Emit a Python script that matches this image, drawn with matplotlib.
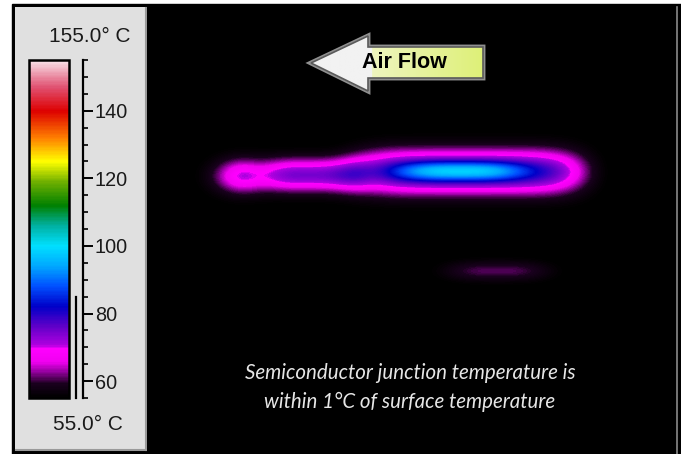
import numpy as np
import matplotlib
matplotlib.use('Agg')
import matplotlib.pyplot as plt
from matplotlib.colors import LinearSegmentedColormap
from matplotlib.patches import Rectangle, Polygon
from matplotlib.ticker import MultipleLocator, FixedLocator

W, H = 681, 454

# ---- colour scale (deg C) ----
t_min, t_max = 55.0, 155.0
scale_ticks = [60, 80, 100, 120, 140]
scale_labels = ['60', '80', '100', '120', '140']
top_label = '155.0° C'
bottom_label = '55.0° C'
scale_stops = [55, 59, 63, 65.5, 69.5, 70.5, 76, 82, 88, 94, 100, 106, 112, 119, 125, 132, 140, 147, 155]
scale_colors = ['#000000', '#1a001e', '#a000aa', '#f000f0', '#ff00ff', '#b000e0', '#6000c8',
                '#0000c8', '#0050ff', '#00a8ff', '#00e0ff', '#00b0a0', '#008000', '#70b000',
                '#ffff00', '#ff8000', '#dd0000', '#e05070', '#f8e0e8']
range_marker = [55, 85]

# ---- hot spots (pixel coords of the picture) ----
spot_names = ['tail_end', 'tail', 'body', 'core', 'lower']
spot_x = [243, 316, 468, 460, 497]
spot_y = [176, 175, 172, 171, 271]
spot_len = [28, 50, 114, 62, 52]
spot_hgt = [17, 16, 21, 10, 10]
spot_rise = [16, 20, 26, 18, 6.3]      # deg C above ambient
spot_pow = [2, 4, 6, 3, 3]
ambient = 55.0

arrow_text = 'Air Flow'
caption = ['Semiconductor junction temperature is', 'within 1°C of surface temperature']

# ---- build the temperature field ----
img_x0, img_x1, img_y0, img_y1 = 147, 676, 7, 452
xs = np.arange(img_x0, img_x1) + 0.5
ys = np.arange(img_y0, img_y1) + 0.5
X, Y = np.meshgrid(xs, ys)
T = np.full(X.shape, ambient - 0.5)
for cx, cy, a, b, rise, p in zip(spot_x, spot_y, spot_len, spot_hgt, spot_rise, spot_pow):
    T += rise * np.exp(-np.abs((X - cx) / a) ** p - ((Y - cy) / b) ** 2)

pos = [(s - t_min) / (t_max - t_min) for s in scale_stops]
cmap = LinearSegmentedColormap.from_list('thermal', list(zip(pos, scale_colors)))
cmap.set_under('#000000')

fig = plt.figure(figsize=(W / 100, H / 100), dpi=100)
fig.patch.set_facecolor('white')

def fr(x0, y0, x1, y1):
    return [x0 / W, 1 - y1 / H, (x1 - x0) / W, (y1 - y0) / H]

LAB = dict(family='Liberation Sans', color='#1a1a1a')

# background
bg = fig.add_axes([0, 0, 1, 1])
bg.set_xlim(0, W); bg.set_ylim(H, 0); bg.axis('off')
bg.add_patch(Rectangle((12, 4), W - 12, H - 4, color='black'))
bg.add_patch(Rectangle((15, 7), 131, 443, facecolor='#e0e0e0', edgecolor='none'))
bg.plot([146, 146], [8, 450], color='#9a9a9a', lw=1.5)
bg.plot([16, 146], [450, 450], color='#9a9a9a', lw=1.5)

# thermal image
ax = fig.add_axes(fr(img_x0, img_y0, img_x1, img_y1))
im = ax.imshow(T, cmap=cmap, vmin=t_min, vmax=t_max, extent=(img_x0, img_x1, img_y1, img_y0),
               interpolation='bilinear', aspect='auto')
ax.set_xlim(img_x0, img_x1); ax.set_ylim(img_y1, img_y0)
ax.axis('off')

# colour bar
cax = fig.add_axes(fr(29, 60, 69, 398))
cb = fig.colorbar(im, cax=cax)
cb.set_ticks([])
cb.outline.set_edgecolor('black')
cb.outline.set_linewidth(1.8)

# scale with ticks
sax = fig.add_axes(fr(70, 60, 83, 398))
sax.set_ylim(t_min, t_max)
sax.patch.set_visible(False)
for s in ['left', 'top', 'bottom']:
    sax.spines[s].set_visible(False)
sax.spines['right'].set_linewidth(1.6)
sax.set_xticks([])
sax.yaxis.tick_right()
sax.yaxis.set_major_locator(FixedLocator(scale_ticks))
sax.set_yticklabels(scale_labels, fontsize=14.3, **LAB)
sax.yaxis.set_minor_locator(MultipleLocator(5))
sax.tick_params(axis='y', which='major', direction='out', length=7.5, width=1.4, pad=1)
sax.tick_params(axis='y', which='minor', direction='out', length=3.6, width=1.2)

# overlay
top = fig.add_axes([0, 0, 1, 1])
top.patch.set_visible(False)

# range marker next to the scale
ry = [60 + (t_max - v) / (t_max - t_min) * 338 for v in range_marker]
top.plot([76, 76], ry, color='black', lw=1.6)

top.text(90, 36, top_label, ha='center', va='center', fontsize=15, **LAB)
top.text(88, 425, bottom_label, ha='center', va='center', fontsize=15, **LAB)

# air flow arrow
pts = [(311, 63), (368, 36), (368, 47), (483, 47), (483, 78), (368, 78), (368, 91)]
halo = Polygon(pts, closed=True, facecolor='none', edgecolor='#cfcfcf', lw=3.5, alpha=0.7)
top.add_patch(halo)
gcols = np.zeros((1, 256, 3))
gx = np.linspace(311, 483, 256)
white = np.array([242, 242, 242]) / 255
yel0 = np.array([238, 245, 190]) / 255
yel1 = np.array([222, 240, 120]) / 255
for i, xv in enumerate(gx):
    if xv < 372:
        gcols[0, i] = white
    else:
        t = (xv - 372) / (483 - 372)
        gcols[0, i] = yel0 * (1 - t) + yel1 * t
gim = top.imshow(gcols, extent=(311, 483, 92, 35), aspect='auto', zorder=3)
poly = Polygon(pts, closed=True, facecolor='none', edgecolor='#5a5a5a', lw=1.2, zorder=4)
top.add_patch(poly)
gim.set_clip_path(poly)
top.set_xlim(0, W); top.set_ylim(H, 0); top.axis('off')
top.text(404, 63, arrow_text, ha='center', va='center', fontsize=15.5, fontweight='bold',
         family='Liberation Sans', color='black', zorder=5)

# caption
top.text(410, 373, caption[0], ha='center', va='center', fontsize=14.8, style='italic',
         family='Lato', color='#e6e6e6')
top.text(410, 402, caption[1], ha='center', va='center', fontsize=14.8, style='italic',
         family='Lato', color='#e6e6e6')

# thin frame line at the right
top.plot([677, 677], [7, 454], color='#8a8a8a', lw=1.2)

fig.savefig('out.png', dpi=100)
